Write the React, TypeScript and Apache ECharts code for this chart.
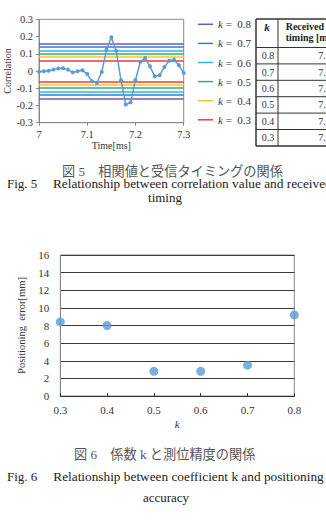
import React, { useEffect, useRef } from "react";
import * as echarts from "echarts";

// Fig. 5: correlation value against time, with the threshold level for each k
const times = [
  7.0, 7.01, 7.02, 7.03, 7.04, 7.05, 7.06, 7.07, 7.08, 7.09, 7.1, 7.11, 7.12, 7.13, 7.14, 7.15,
  7.16, 7.17, 7.18, 7.19, 7.2, 7.21, 7.22, 7.23, 7.24, 7.25, 7.26, 7.27, 7.28, 7.29, 7.3,
];
const correlation = [
  -0.004, -0.002, 0.002, 0.008, 0.014, 0.016, 0.008, -0.008, -0.002, 0.004, -0.018, -0.06, -0.07,
  -0.006, 0.124, 0.196, 0.118, -0.054, -0.195, -0.182, -0.052, 0.052, 0.076, 0.027, -0.031,
  -0.025, 0.023, 0.06, 0.066, 0.033, -0.012,
];
const kLevels = [0.8, 0.7, 0.6, 0.5, 0.4, 0.3];
const thresholds = [0.157, 0.137, 0.118, 0.098, 0.078, 0.059];
const thresholdColors = ["#7d52b0", "#2f7fc8", "#2db5ec", "#30b068", "#fcc42a", "#ee3b3b"];

// Table beside Fig. 5
const tableHeader = ["k", "Received", "timing [ms]"];
const receivedTiming = ["7.", "7.", "7.", "7.", "7.", "7."];

// Fig. 6: positioning error for each k (same order as kLevels)
const positioningError = [9.2, 3.5, 2.8, 2.8, 8.0, 8.4];

const captions = {
  fig5Ja: "図 5\u3000相関値と受信タイミングの関係",
  fig5EnLabel: "Fig. 5",
  fig5En: "Relationship between correlation value and received",
  fig5En2: "timing",
  fig6Ja: "図 6\u3000係数 k と測位精度の関係",
  fig6EnLabel: "Fig. 6",
  fig6En: "Relationship between coefficient k and positioning",
  fig6En2: "accuracy",
};

const SERIF = "'Liberation Serif', 'Times New Roman', serif";
const MIXED = "'Liberation Serif', 'Noto Sans CJK JP', serif";
const BLUE = "#5b9bd5";

const legendName = (k: number) => `k =  ${k.toFixed(1)}`;

function buildTable() {
  const left = 256;
  const kCol = 278;
  const right = 345;
  const top = 19;
  const headerBottom = 47.5;
  const rowH = 16.4;
  const els: any[] = [];
  const bottom = headerBottom + rowH * kLevels.length;
  // outer border
  els.push({ type: "line", shape: { x1: left, y1: top, x2: right, y2: top }, style: { stroke: "#333", lineWidth: 1.5 } });
  els.push({ type: "line", shape: { x1: left, y1: bottom, x2: right, y2: bottom }, style: { stroke: "#333", lineWidth: 1.5 } });
  els.push({ type: "line", shape: { x1: left, y1: top, x2: left, y2: bottom }, style: { stroke: "#333", lineWidth: 1.5 } });
  els.push({ type: "line", shape: { x1: kCol, y1: top, x2: kCol, y2: bottom }, style: { stroke: "#333", lineWidth: 1 } });
  els.push({ type: "line", shape: { x1: left, y1: headerBottom, x2: right, y2: headerBottom }, style: { stroke: "#333", lineWidth: 1 } });
  for (let i = 1; i < kLevels.length; i++) {
    const y = headerBottom + rowH * i;
    els.push({ type: "line", shape: { x1: left, y1: y, x2: right, y2: y }, style: { stroke: "#333", lineWidth: 1 } });
  }
  els.push({
    type: "text",
    x: (left + kCol) / 2,
    y: 26.5,
    style: { text: tableHeader[0], fontFamily: SERIF, fontSize: 11, fontWeight: "bold", fontStyle: "italic", fill: "#222", align: "center", verticalAlign: "middle" },
  });
  els.push({
    type: "text",
    x: 285.7,
    y: 26.5,
    style: { text: tableHeader[1], fontFamily: SERIF, fontSize: 10, fontWeight: "bold", fill: "#222", align: "left", verticalAlign: "middle" },
  });
  els.push({
    type: "text",
    x: 285.7,
    y: 37.5,
    style: { text: tableHeader[2], fontFamily: SERIF, fontSize: 10, fontWeight: "bold", fill: "#222", align: "left", verticalAlign: "middle" },
  });
  kLevels.forEach((k, i) => {
    const cy = headerBottom + rowH * i + rowH / 2;
    els.push({
      type: "text",
      x: (left + kCol) / 2 + 1,
      y: cy,
      style: { text: k.toFixed(1), fontFamily: SERIF, fontSize: 10, fill: "#333", align: "center", verticalAlign: "middle" },
    });
    els.push({
      type: "text",
      x: 318.3,
      y: cy,
      style: { text: receivedTiming[i], fontFamily: SERIF, fontSize: 10, fill: "#333", align: "left", verticalAlign: "middle" },
    });
  });
  return els;
}

function buildCaptions() {
  const t = (text: string, x: number, y: number, opts: any = {}) => ({
    type: "text",
    x,
    y,
    style: {
      text,
      fontFamily: MIXED,
      fontSize: 13,
      fill: "#222",
      align: "left",
      verticalAlign: "middle",
      ...opts,
    },
  });
  return [
    t(captions.fig5Ja, 62, 171.5, { fill: "#555", fontSize: 13.2 }),
    t(captions.fig5EnLabel, 7, 183.8),
    t(captions.fig5En, 53, 183.8, { fontSize: 13.3 }),
    t(captions.fig5En2, 165, 197, { align: "center" }),
    t(captions.fig6Ja, 74, 454.5, { fill: "#555", fontSize: 13.2 }),
    t(captions.fig6EnLabel, 7, 476),
    t(captions.fig6En, 53.3, 476, { fontSize: 13.3 }),
    t(captions.fig6En2, 166, 497.5, { align: "center" }),
  ];
}

export default function App() {
  const ref = useRef<HTMLDivElement>(null);

  useEffect(() => {
    if (!ref.current) return;
    const chart = echarts.init(ref.current, null, { renderer: "svg" });

    const thresholdSeries = kLevels.map((k, i) => ({
      name: legendName(k),
      type: "line",
      xAxisIndex: 0,
      yAxisIndex: 0,
      data: [],
      symbol: "none",
      itemStyle: { color: thresholdColors[i] },
      lineStyle: { color: thresholdColors[i], width: 1.5 },
      z: 2,
      markLine: {
        silent: true,
        symbol: "none",
        label: { show: false },
        lineStyle: { color: thresholdColors[i], width: 1.5, type: "solid" },
        data: [{ yAxis: thresholds[i] }, { yAxis: -thresholds[i] }],
      },
    }));

    const oneDecimal = (v: number) => (Math.abs(v) < 1e-9 ? "0" : v.toFixed(1));

    const option: any = {
      animation: false,
      backgroundColor: "#ffffff",
      textStyle: { fontFamily: SERIF },
      grid: [
        { left: 39, top: 19.3, width: 144.7, height: 103.4, show: true, borderColor: "#8a8a8a", borderWidth: 1, backgroundColor: "transparent" },
        { left: 60.3, top: 255, width: 234, height: 141, show: true, borderColor: "#8a8a8a", borderWidth: 1, backgroundColor: "transparent" },
      ],
      legend: {
        data: kLevels.map(legendName),
        orient: "vertical",
        left: 198,
        top: 18.3,
        padding: 0,
        itemGap: 7.1,
        itemWidth: 15,
        itemHeight: 1.5,
        icon: "rect",
        selectedMode: false,
        textStyle: {
          fontFamily: SERIF,
          fontSize: 11,
          color: "#333",
          lineHeight: 12,
          rich: { i: { fontFamily: SERIF, fontSize: 11, fontStyle: "italic", color: "#333" } },
        },
        formatter: (name: string) => name.replace(/^k/, "{i|k}"),
      },
      xAxis: [
        {
          gridIndex: 0,
          type: "value",
          min: 7,
          max: 7.3,
          interval: 0.1,
          name: "Time[ms]",
          nameLocation: "middle",
          nameGap: 18,
          nameTextStyle: { fontFamily: SERIF, fontSize: 10, color: "#333" },
          axisLine: { show: true, onZero: false, lineStyle: { color: "#8a8a8a" } },
          axisTick: { show: true, length: 3, lineStyle: { color: "#8a8a8a" } },
          axisLabel: { margin: 6, fontSize: 10.5, color: "#333", fontFamily: SERIF, formatter: (v: number) => (Math.abs(v - 7) < 1e-9 ? "7" : v.toFixed(1)) },
          splitLine: { show: false },
        },
        {
          gridIndex: 1,
          type: "value",
          min: 0.3,
          max: 0.8,
          interval: 0.1,
          name: "k",
          nameLocation: "middle",
          nameGap: 22,
          nameTextStyle: { fontFamily: SERIF, fontSize: 11, fontStyle: "italic", color: "#333" },
          axisLine: { show: true, onZero: false, lineStyle: { color: "#333" } },
          axisTick: { show: true, inside: true, length: 3, lineStyle: { color: "#333" } },
          axisLabel: { margin: 8, fontSize: 11, color: "#333", fontFamily: SERIF, formatter: (v: number) => v.toFixed(1) },
          splitLine: { show: false },
        },
      ],
      yAxis: [
        {
          gridIndex: 0,
          type: "value",
          min: -0.3,
          max: 0.3,
          interval: 0.1,
          name: "Correlation",
          nameLocation: "middle",
          nameGap: 25,
          nameTextStyle: { fontFamily: SERIF, fontSize: 10, color: "#333" },
          axisLine: { show: true, onZero: false, lineStyle: { color: "#8a8a8a" } },
          axisTick: { show: true, length: 3, lineStyle: { color: "#8a8a8a" } },
          axisLabel: { margin: 6, fontSize: 10.5, color: "#333", fontFamily: SERIF, formatter: oneDecimal },
          splitLine: { show: false },
        },
        {
          gridIndex: 1,
          type: "value",
          min: 0,
          max: 16,
          interval: 2,
          name: "Positioning  error[mm]",
          nameLocation: "middle",
          nameGap: 28,
          nameTextStyle: { fontFamily: SERIF, fontSize: 10.5, color: "#333" },
          axisLine: { show: true, lineStyle: { color: "#8a8a8a" } },
          axisTick: { show: false },
          axisLabel: { margin: 11, fontSize: 11, color: "#333", fontFamily: SERIF },
          splitLine: { show: true, lineStyle: { color: "#3a3a3a", width: 1 } },
        },
      ],
      series: [
        ...thresholdSeries,
        {
          name: "Correlation",
          type: "line",
          xAxisIndex: 0,
          yAxisIndex: 0,
          data: times.map((t, i) => [t, correlation[i]]),
          symbol: "circle",
          symbolSize: 4,
          showAllSymbol: true,
          itemStyle: { color: BLUE },
          lineStyle: { color: BLUE, width: 1.5 },
          z: 5,
        },
        {
          name: "Positioning error",
          type: "scatter",
          xAxisIndex: 1,
          yAxisIndex: 1,
          data: kLevels.map((k, i) => [k, positioningError[i]]),
          symbol: "circle",
          symbolSize: 9,
          itemStyle: { color: BLUE },
          z: 5,
        },
      ],
      graphic: [...buildTable(), ...buildCaptions()],
    };

    chart.setOption(option);
    return () => chart.dispose();
  }, []);

  return (
    <div
      ref={ref}
      style={{ position: "absolute", left: 0, top: 0, width: 326, height: 525, background: "#fff" }}
    />
  );
}
